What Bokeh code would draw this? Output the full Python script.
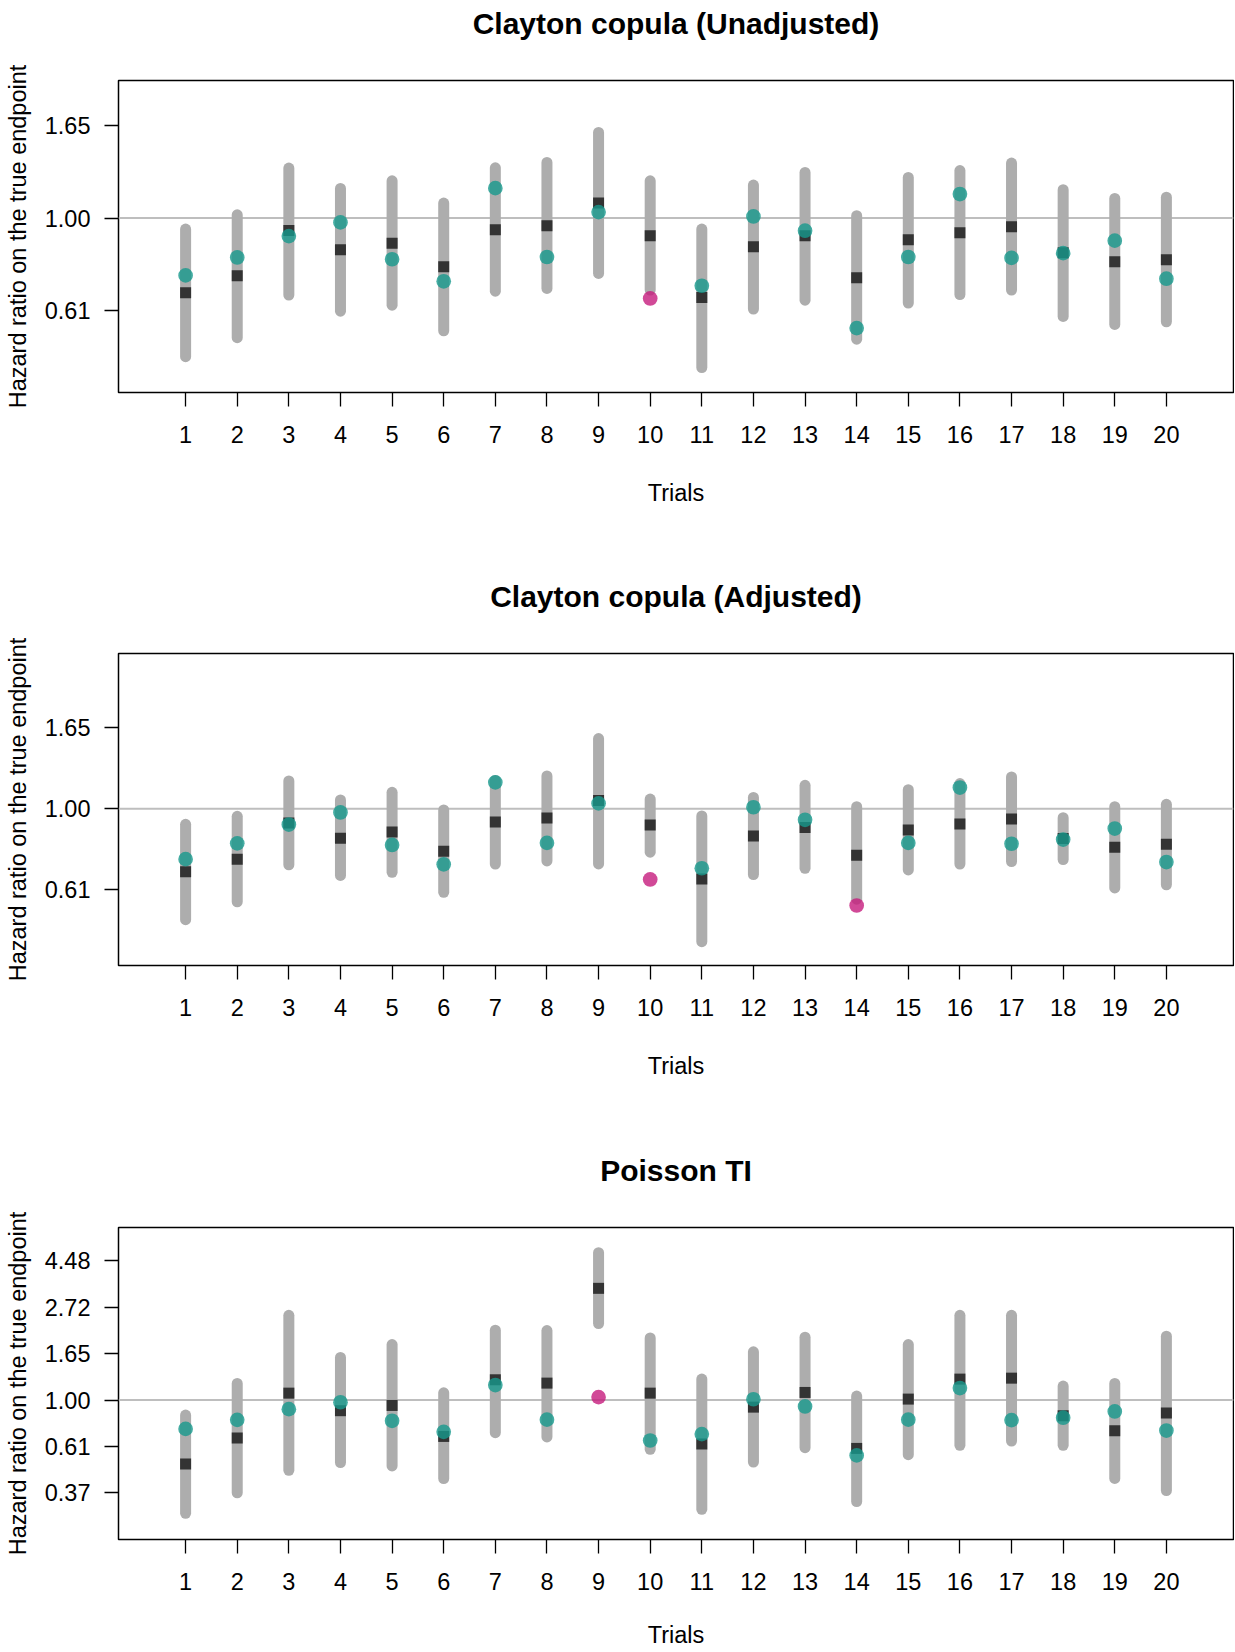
from bokeh.plotting import figure
from bokeh.layouts import column
from bokeh.models import Range1d, FixedTicker, Span, ColumnDataSource
from bokeh.embed import file_html
from bokeh.resources import INLINE

# ---------------- data ----------------
trials = list(range(1, 21))
trial_labels = [str(t) for t in trials]

true_hr = [0.733, 0.808, 0.907, 0.977, 0.800, 0.710, 1.176, 0.810, 1.033, 0.647,
           0.693, 1.009, 0.934, 0.551, 0.810, 1.139, 0.806, 0.827, 0.885, 0.720]

unadj_est = [0.667, 0.732, 0.935, 0.842, 0.873, 0.768, 0.939, 0.959, 1.085, 0.909,
             0.650, 0.856, 0.909, 0.724, 0.889, 0.924, 0.954, 0.829, 0.789, 0.798]
unadj_lo = [0.472, 0.523, 0.659, 0.604, 0.624, 0.543, 0.673, 0.683, 0.741, 0.677,
            0.445, 0.611, 0.641, 0.519, 0.631, 0.661, 0.677, 0.587, 0.562, 0.570]
unadj_hi = [0.942, 1.018, 1.311, 1.174, 1.224, 1.085, 1.313, 1.352, 1.590, 1.224,
            0.942, 1.196, 1.281, 1.013, 1.246, 1.294, 1.347, 1.166, 1.112, 1.120]

adj_est = [0.678, 0.733, 0.915, 0.834, 0.866, 0.770, 0.921, 0.944, 1.051, 0.904,
           0.649, 0.845, 0.891, 0.751, 0.877, 0.910, 0.938, 0.833, 0.789, 0.804]
adj_lo = [0.505, 0.564, 0.708, 0.663, 0.676, 0.598, 0.711, 0.725, 0.712, 0.765,
          0.441, 0.667, 0.693, 0.573, 0.686, 0.711, 0.722, 0.731, 0.614, 0.626]
adj_hi = [0.908, 0.954, 1.186, 1.055, 1.106, 0.992, 1.190, 1.223, 1.540, 1.061,
          0.956, 1.072, 1.155, 1.012, 1.124, 1.167, 1.216, 0.946, 1.012, 1.027]

pois_est = [0.502, 0.664, 1.078, 0.892, 0.944, 0.676, 1.245, 1.201, 3.337, 1.078,
            0.623, 0.927, 1.086, 0.594, 1.011, 1.254, 1.267, 0.845, 0.719, 0.869]
pois_lo = [0.295, 0.368, 0.469, 0.510, 0.492, 0.429, 0.704, 0.672, 2.282, 0.588,
           0.308, 0.513, 0.599, 0.335, 0.555, 0.614, 0.643, 0.614, 0.430, 0.377]
pois_hi = [0.851, 1.197, 2.496, 1.583, 1.820, 1.082, 2.124, 2.117, 4.899, 1.956,
           1.254, 1.682, 1.970, 1.044, 1.820, 2.496, 2.496, 1.163, 1.197, 1.991]

yticks_copula = [0.6065306597, 1.0, 1.6487212707]
ylabels_copula = ["0.61", "1.00", "1.65"]
yticks_pois = [0.3678794412, 0.6065306597, 1.0, 1.6487212707, 2.7182818285, 4.4816890703]
ylabels_pois = ["0.37", "0.61", "1.00", "1.65", "2.72", "4.48"]

titles = ["Clayton copula (Unadjusted)", "Clayton copula (Adjusted)", "Poisson TI"]

# ---------------- style ----------------
FONT = "Liberation Sans"
TEAL = "#16988C"
MAGENTA = "#C51B7D"
BAR = "#ADADAD"
SQ = "#333333"
REF = "#BEBEBE"
TXT = "23.5px"
E = 2.718281828459045

W = 1234
LEFT = 118
RIGHT = 1
TOP = 80


def make_panel(title, est, lo, hi, yticks, ylabels, yrange, height, frame_h, xlab_standoff):
    bottom = height - TOP - frame_h
    p = figure(width=W, height=height, y_axis_type="log",
               x_range=Range1d(-0.3, 21.3), y_range=Range1d(*yrange),
               output_backend="svg", toolbar_location=None,
               min_border_left=LEFT, min_border_right=RIGHT,
               min_border_top=TOP, min_border_bottom=bottom,
               background_fill_color="white", border_fill_color="white")
    cols = [MAGENTA if (t < l or t > h) else TEAL for t, l, h in zip(true_hr, lo, hi)]
    src = ColumnDataSource(dict(x=trials, est=est, lo=lo, hi=hi, tr=true_hr, col=cols))

    p.add_layout(Span(location=1.0, dimension="width", line_color=REF,
                      line_width=2, level="underlay"))
    p.segment(x0="x", y0="lo", x1="x", y1="hi", source=src, line_color=BAR,
              line_width=11, line_cap="round")
    p.scatter(x="x", y="est", source=src, marker="square", size=11,
              fill_color=SQ, line_color=None)
    p.scatter(x="x", y="tr", source=src, marker="circle", size=14.7,
              fill_color="col", fill_alpha=0.8, line_color=None)

    p.xgrid.visible = False
    p.ygrid.visible = False
    p.outline_line_color = "black"
    p.outline_line_width = 1.5
    p.outline_line_alpha = 1.0

    # second (empty) line reserves the space between title and frame
    p.title.text = title + "\n"
    p.title.align = "center"
    p.title.vertical_align = "top"
    p.title.standoff = 11
    p.title.text_font = FONT
    p.title.text_font_size = "30px"
    p.title.text_font_style = "bold"
    p.title.text_color = "black"

    for ax in (p.xaxis[0], p.yaxis[0]):
        ax.axis_line_color = None
        ax.major_tick_line_color = "black"
        ax.major_tick_line_width = 1.3
        ax.major_tick_out = 14
        ax.major_tick_in = 0
        ax.minor_tick_line_color = None
        ax.major_label_text_font = FONT
        ax.major_label_text_font_size = TXT
        ax.major_label_text_color = "black"
        ax.axis_label_text_font = FONT
        ax.axis_label_text_font_size = TXT
        ax.axis_label_text_font_style = "normal"
        ax.axis_label_text_color = "black"

    xa = p.xaxis[0]
    xa.ticker = FixedTicker(ticks=trials)
    xa.major_label_overrides = {t: s for t, s in zip(trials, trial_labels)}
    xa.major_label_standoff = 19
    xa.axis_label = "Trials"
    xa.axis_label_standoff = xlab_standoff

    ya = p.yaxis[0]
    ya.ticker = FixedTicker(ticks=yticks)
    ya.major_label_overrides = {t: s for t, s in zip(yticks, ylabels)}
    ya.major_label_standoff = 14
    ya.major_label_orientation = "horizontal"
    ya.axis_label = "Hazard ratio on the true endpoint"
    ya.axis_label_standoff = 11
    return p


p1 = make_panel(titles[0], unadj_est, unadj_lo, unadj_hi, yticks_copula, ylabels_copula,
                (E ** -0.945, E ** 0.7455), 573, 312, 34)
p2 = make_panel(titles[1], adj_est, adj_lo, adj_hi, yticks_copula, ylabels_copula,
                (E ** -0.965, E ** 0.955), 574, 312, 34)
p3 = make_panel(titles[2], pois_est, pois_lo, pois_hi, yticks_pois, ylabels_pois,
                (E ** -1.503, E ** 1.861), 504, 312, 29)

layout = column(p1, p2, p3, spacing=0)
open("out.html", "w").write(file_html(layout, INLINE))
